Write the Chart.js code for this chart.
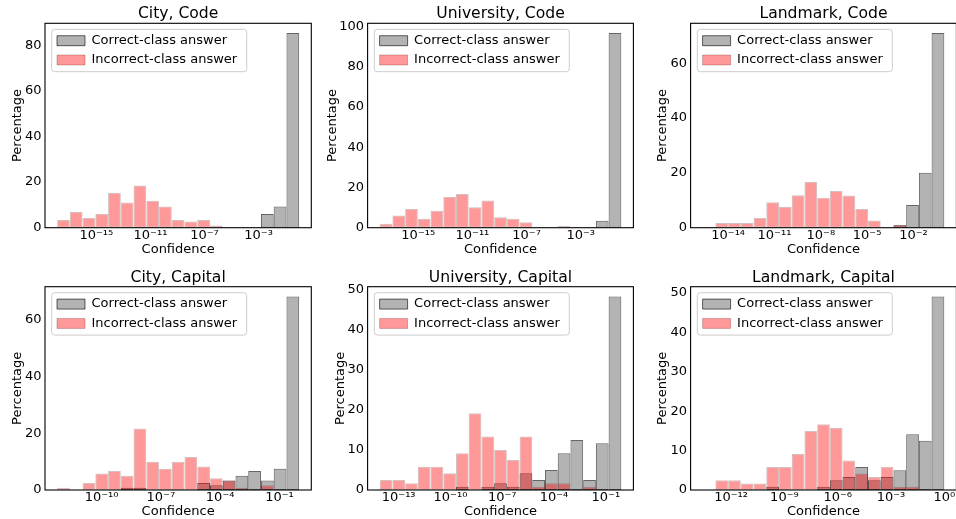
<!DOCTYPE html>
<html>
<head>
<meta charset="utf-8">
<script src="https://cdn.jsdelivr.net/npm/chart.js@4.4.1/dist/chart.umd.min.js"></script>
<style>
  html, body { margin: 0; padding: 0; background: #fff; overflow: hidden; width: 956px; height: 519px; }
  canvas { position: absolute; left: 0; top: 0; }
</style>
</head>
<body>
<script>
// Each panel is a 19-bin histogram on log-spaced bins.
// Ranges give log10 of the first and last bin edge; values are percentages per bin.

const cityCodeRange = [-17.9, 0];
const cityCodeCorrect   = [0, 0, 0, 0, 0, 0, 0, 0, 0, 0, 0, 0, 0, 0, 0, 0, 6.0, 9.3, 85.3];
const cityCodeIncorrect = [3.4, 6.9, 4.3, 6.0, 15.3, 11.0, 18.5, 11.8, 9.3, 3.4, 2.7, 3.4, 1.0, 0, 0, 0, 0, 0, 0];
const cityCodeXTicks = [-15, -11, -7, -3];
const cityCodeYTicks = [0, 20, 40, 60, 80];

const uniCodeRange = [-17.85, 0];
const uniCodeCorrect   = [0, 0, 0, 0, 0, 0, 0, 0, 0, 0, 0, 0, 0, 0, 0, 0, 0, 3.4, 96.7];
const uniCodeIncorrect = [2.0, 6.0, 9.3, 4.4, 8.4, 15.2, 16.7, 10.2, 13.5, 5.2, 4.4, 2.7, 0, 0, 1.0, 0, 0, 0, 0];
const uniCodeXTicks = [-15, -11, -7, -3];
const uniCodeYTicks = [0, 20, 40, 60, 80, 100];

const landCodeRange = [-15.65, 0];
const landCodeCorrect   = [0, 0, 0, 0, 0, 0, 0, 0, 0, 0, 0, 0, 0, 0, 0, 0.9, 8.3, 20.0, 71.0];
const landCodeIncorrect = [0.2, 1.7, 1.7, 1.7, 3.5, 9.3, 7.6, 11.8, 16.7, 10.9, 13.4, 11.7, 6.8, 2.6, 0, 1.0, 0, 0, 0];
const landCodeXTicks = [-14, -11, -8, -5, -2];
const landCodeYTicks = [0, 20, 40, 60];

const cityCapRange = [-12.25, 0];
const cityCapCorrect   = [0, 0, 0, 0, 0, 0.83, 0.83, 0, 0, 0, 0, 2.5, 1.67, 3.33, 5.0, 6.67, 3.33, 7.5, 68.33];
const cityCapIncorrect = [0.83, 0, 2.5, 5.83, 6.67, 5.0, 21.67, 10.0, 7.5, 10.0, 11.67, 8.33, 4.17, 3.33, 0.83, 0, 1.67, 0, 0];
const cityCapXTicks = [-10, -7, -4, -1];
const cityCapYTicks = [0, 20, 40, 60];

const uniCapRange = [-14.1, -0.1];
const uniCapCorrect   = [0, 0, 0, 0, 0, 0, 0.83, 0, 0.83, 1.67, 0.83, 4.17, 2.5, 5.0, 9.17, 12.5, 2.5, 11.67, 48.33];
const uniCapIncorrect = [2.5, 2.5, 1.67, 5.83, 5.83, 4.17, 9.17, 19.17, 13.33, 10.0, 7.5, 13.33, 0.83, 1.67, 1.67, 0, 0.83, 0, 0];
const uniCapXTicks = [-13, -10, -7, -4, -1];
const uniCapYTicks = [0, 10, 20, 30, 40, 50];

const landCapRange = [-13.6, 0];
const landCapCorrect   = [0, 0, 0, 0, 0, 0.83, 0, 0, 0, 0.83, 2.5, 3.33, 5.83, 2.5, 3.33, 5.0, 14.17, 12.5, 49.17];
const landCapIncorrect = [0, 2.5, 2.5, 1.67, 1.67, 5.83, 5.83, 9.17, 15.0, 16.67, 15.83, 7.5, 4.17, 3.33, 5.83, 0.83, 0.83, 0, 0];
const landCapXTicks = [-12, -9, -6, -3, 0];
const landCapYTicks = [0, 10, 20, 30, 40, 50];

const seriesLabels = ['Correct-class answer', 'Incorrect-class answer'];

// Page geometry
const CANVAS_W = 960, CANVAS_H = 525;
const TITLE_SIZE = 15.6, TITLE_LINE = TITLE_SIZE * 1.2;
const X_AXIS_H = 30;
const TOP_ROW = { top: 23.3, bottom: 227.7 };
const BOTTOM_ROW = { top: 286.7, bottom: 490 };

const panels = [
  { title: 'City, Code', range: cityCodeRange, correct: cityCodeCorrect, incorrect: cityCodeIncorrect,
    xTicks: cityCodeXTicks, yTicks: cityCodeYTicks, left: 45.0, right: 311.3, row: TOP_ROW, yAxisW: 37 },
  { title: 'University, Code', range: uniCodeRange, correct: uniCodeCorrect, incorrect: uniCodeIncorrect,
    xTicks: uniCodeXTicks, yTicks: uniCodeYTicks, left: 367.6, right: 633.4, row: TOP_ROW, yAxisW: 45.1 },
  { title: 'Landmark, Code', range: landCodeRange, correct: landCodeCorrect, incorrect: landCodeIncorrect,
    xTicks: landCodeXTicks, yTicks: landCodeYTicks, left: 690.6, right: 956.4, row: TOP_ROW, yAxisW: 37.7 },
  { title: 'City, Capital', range: cityCapRange, correct: cityCapCorrect, incorrect: cityCapIncorrect,
    xTicks: cityCapXTicks, yTicks: cityCapYTicks, left: 45.0, right: 311.3, row: BOTTOM_ROW, yAxisW: 37.3 },
  { title: 'University, Capital', range: uniCapRange, correct: uniCapCorrect, incorrect: uniCapIncorrect,
    xTicks: uniCapXTicks, yTicks: uniCapYTicks, left: 367.6, right: 633.4, row: BOTTOM_ROW, yAxisW: 36.9 },
  { title: 'Landmark, Capital', range: landCapRange, correct: landCapCorrect, incorrect: landCapIncorrect,
    xTicks: landCapXTicks, yTicks: landCapYTicks, left: 690.6, right: 956.4, row: BOTTOM_ROW, yAxisW: 37.7 }
];

Chart.defaults.font.family = "'DejaVu Sans', sans-serif";
Chart.defaults.color = '#000';

const SUP = { '-': '\u207B', '0': '\u2070', '1': '\u00B9', '2': '\u00B2', '3': '\u00B3',
  '4': '\u2074', '5': '\u2075', '6': '\u2076', '7': '\u2077', '8': '\u2078', '9': '\u2079' };
function pow10Label(v) {
  return '10' + String(Math.round(v)).split('').map(c => SUP[c]).join('');
}

// Frame, legend box and title placement shared by all panels
const panelDecor = {
  id: 'panelDecor',
  afterLayout(chart) {
    const a = chart.chartArea;
    const t = chart.titleBlock;
    if (t) {
      t.left = a.left; t.right = a.right; t.width = a.right - a.left;
      t.top = a.top - 18.3; t.bottom = t.top + TITLE_LINE;
    }
    const lg = chart.legend;
    if (lg) {
      lg.left = a.left + 5.7; lg.top = a.top + 4.6;
      lg.right = a.right; lg.bottom = a.bottom;
    }
  },
  beforeDraw(chart) {
    const a = chart.chartArea, ctx = chart.ctx;
    const x = a.left + 6.7, y = a.top + 6, w = 195, h = 42.4, r = 3;
    ctx.save();
    ctx.beginPath();
    ctx.roundRect(x, y, w, h, r);
    ctx.fillStyle = 'rgba(255,255,255,0.8)';
    ctx.fill();
    ctx.lineWidth = 1;
    ctx.strokeStyle = '#cccccc';
    ctx.stroke();
    ctx.restore();
  },
  afterDatasetsDraw(chart) {
    const a = chart.chartArea, ctx = chart.ctx;
    ctx.save();
    ctx.lineWidth = 1.1;
    ctx.strokeStyle = '#000';
    ctx.strokeRect(a.left, a.top, a.right - a.left, a.bottom - a.top);
    ctx.restore();
  }
};

function drawPanel(p) {
  const canvas = document.createElement('canvas');
  canvas.width = CANVAS_W;
  canvas.height = CANVAS_H;
  document.body.appendChild(canvas);

  const [lo, hi] = p.range;
  const n = p.correct.length;
  const binW = (hi - lo) / n;
  const centers = p.correct.map((_, i) => lo + (i + 0.5) * binW);
  const span = hi - lo;
  const yMax = Math.max(...p.correct, ...p.incorrect) * 1.05;

  new Chart(canvas, {
    type: 'bar',
    data: {
      datasets: [
        {
          label: seriesLabels[0],
          data: centers.map((x, i) => ({ x, y: p.correct[i] })),
          backgroundColor: 'rgba(128,128,128,0.6)',
          borderColor: 'rgba(0,0,0,0.6)',
          borderWidth: 1,
          order: 1
        },
        {
          label: seriesLabels[1],
          data: centers.map((x, i) => ({ x, y: p.incorrect[i] })),
          backgroundColor: 'rgba(255,0,0,0.4)',
          borderColor: 'rgba(90,0,0,0.25)',
          borderWidth: 1,
          order: 0
        }
      ]
    },
    options: {
      responsive: false,
      animation: false,
      devicePixelRatio: 1,
      events: [],
      layout: {
        padding: {
          left: p.left - p.yAxisW,
          right: CANVAS_W - p.right,
          top: p.row.top - TITLE_LINE,
          bottom: CANVAS_H - p.row.bottom - X_AXIS_H
        }
      },
      datasets: {
        bar: { grouped: false, barPercentage: 1, categoryPercentage: 1, borderSkipped: false, inflateAmount: 0 }
      },
      scales: {
        x: {
          type: 'linear',
          min: lo - 0.05 * span,
          max: hi + 0.05 * span,
          offset: false,
          grid: { display: false, drawTicks: false },
          border: { display: false },
          afterBuildTicks: s => { s.ticks = p.xTicks.map(v => ({ value: v })); },
          afterFit: s => { s.height = X_AXIS_H; },
          ticks: { autoSkip: false, maxRotation: 0, padding: 0, font: { size: 13 }, callback: v => pow10Label(v) },
          title: { display: true, text: 'Confidence', font: { size: 13 }, padding: { top: 0, bottom: 0.7 } }
        },
        y: {
          min: 0,
          max: yMax,
          grid: { display: false, drawTicks: false },
          border: { display: false },
          afterBuildTicks: s => { s.ticks = p.yTicks.map(v => ({ value: v })); },
          afterFit: s => { s.width = p.yAxisW; },
          ticks: { padding: 3.5, font: { size: 13 } },
          title: { display: true, text: 'Percentage', font: { size: 13 }, padding: { top: 2, bottom: 0 } }
        }
      },
      plugins: {
        title: { display: true, text: p.title, font: { size: TITLE_SIZE, weight: 'normal' }, padding: 0 },
        legend: {
          position: 'chartArea',
          align: 'start',
          labels: {
            boxWidth: 28, boxHeight: 10, padding: 6.3, font: { size: 13 }, color: '#000',
            sort: (a, b) => a.datasetIndex - b.datasetIndex
          }
        },
        tooltip: { enabled: false }
      }
    },
    plugins: [panelDecor]
  });
}

panels.forEach(drawPanel);
</script>
</body>
</html>
